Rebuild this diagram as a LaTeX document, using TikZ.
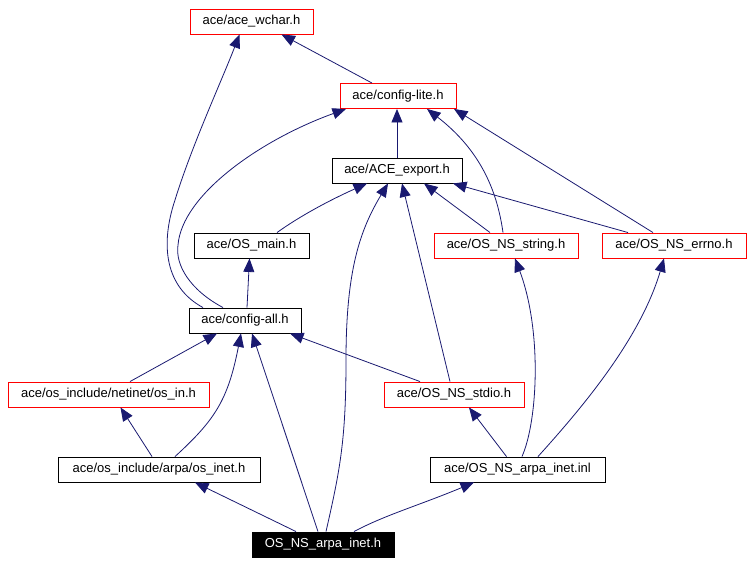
\documentclass[tikz,border=0pt]{standalone}
\usepackage{fontspec}
\setmainfont{Liberation Sans}
\usetikzlibrary{arrows.meta}
\definecolor{edgeblue}{HTML}{191970}
\tikzset{
  box/.style={draw=black, line width=0.9pt, fill=white, minimum height=25pt, inner sep=0pt, font=\fontsize{13}{15}\selectfont},
  redbox/.style={box, draw=red},
  mainbox/.style={box, fill=black, text=white},
  edge/.style={draw=edgeblue, line width=0.8pt, -{Triangle[length=13.5pt,width=11pt]}},
}
\begin{document}
\begin{tikzpicture}[x=1pt,y=-1pt]
\useasboundingbox (0,0) rectangle (751,564);
% nodes
\node[redbox, minimum width=123pt] (wchar) at (251.5,21.5) {ace/ace\_wchar.h};
\node[redbox, minimum width=116pt] (lite) at (398,96) {ace/config-lite.h};
\node[box, minimum width=130pt] (export) at (397,170.5) {ace/ACE\_export.h};
\node[box, minimum width=115pt] (osmain) at (251.5,245.5) {ace/OS\_main.h};
\node[redbox, minimum width=144pt] (string) at (506,245.5) {ace/OS\_NS\_string.h};
\node[redbox, minimum width=144pt] (errno) at (674,245.5) {ace/OS\_NS\_errno.h};
\node[box, minimum width=112pt] (configall) at (245,320.5) {ace/config-all.h};
\node[redbox, minimum width=201pt] (osin) at (108.5,394.5) {ace/os\_include/netinet/os\_in.h};
\node[redbox, minimum width=140pt] (stdio) at (454,394.5) {ace/OS\_NS\_stdio.h};
\node[box, minimum width=202pt] (osinet) at (159,469.5) {ace/os\_include/arpa/os\_inet.h};
\node[box, minimum width=175pt] (inl) at (517.5,469.5) {ace/OS\_NS\_arpa\_inet.inl};
\node[mainbox, minimum width=142pt] (main) at (323,544.5) {OS\_NS\_arpa\_inet.h};
% edges
\draw[edge] ([xshift=-26pt]lite.north) -- ([xshift=30pt]wchar.south);
\draw[edge] ([xshift=-42pt]configall.north) .. controls (165,287) and (160,245) .. (175,200) .. controls (192,145) and (222,80) .. ([xshift=-12pt]wchar.south);
\draw[edge] ([xshift=-22pt]configall.north) .. controls (190,290) and (175,265) .. (178,245) .. controls (182,195) and (260,140) .. ([xshift=-52pt]lite.south);
\draw[edge] (export.north) -- ([xshift=-1pt]lite.south);
\draw[edge] ([xshift=-3pt]string.north) .. controls (497,190) and (480,150) .. ([xshift=29pt]lite.south);
\draw[edge] ([xshift=-21pt]errno.north) -- ([xshift=56pt]lite.south);
\draw[edge] ([xshift=25.5pt]osmain.north) .. controls (300,216) and (330,200) .. ([xshift=-30pt]export.south);
\draw[edge] ([xshift=3pt]main.north) .. controls (340,470) and (346,440) .. (346,360) .. controls (346,270) and (360,230) .. ([xshift=-9pt]export.south);
\draw[edge] ([xshift=-4pt]stdio.north) -- ([xshift=5pt]export.south);
\draw[edge] ([xshift=-16pt]string.north) -- ([xshift=27pt]export.south);
\draw[edge] ([xshift=-46pt]errno.north) -- ([xshift=56pt]export.south);
\draw[edge] ([xshift=2pt]configall.north) -- ([xshift=-2pt]osmain.south);
\draw[edge] ([xshift=21.5pt]osin.north) -- ([xshift=-28pt]configall.south);
\draw[edge] ([xshift=16pt]osinet.north) .. controls (215,420) and (228,400) .. ([xshift=-4pt]configall.south);
\draw[edge] ([xshift=-5pt]main.north) -- ([xshift=7pt]configall.south);
\draw[edge] ([xshift=-34pt]stdio.north) -- ([xshift=45pt]configall.south);
\draw[edge] ([xshift=-7pt]osinet.north) -- ([xshift=12pt]osin.south);
\draw[edge] ([xshift=-11pt]inl.north) -- ([xshift=15pt]stdio.south);
\draw[edge] ([xshift=4.5pt]inl.north) .. controls (538,420) and (542,330) .. ([xshift=9pt]string.south);
\draw[edge] ([xshift=20.5pt]inl.north) .. controls (580,410) and (640,340) .. ([xshift=-10pt]errno.south);
\draw[edge] ([xshift=-27pt]main.north) -- ([xshift=36pt]osinet.south);
\draw[edge] ([xshift=31pt]main.north) .. controls (385,515) and (420,505) .. ([xshift=-43.5pt]inl.south);
\end{tikzpicture}
\end{document}
